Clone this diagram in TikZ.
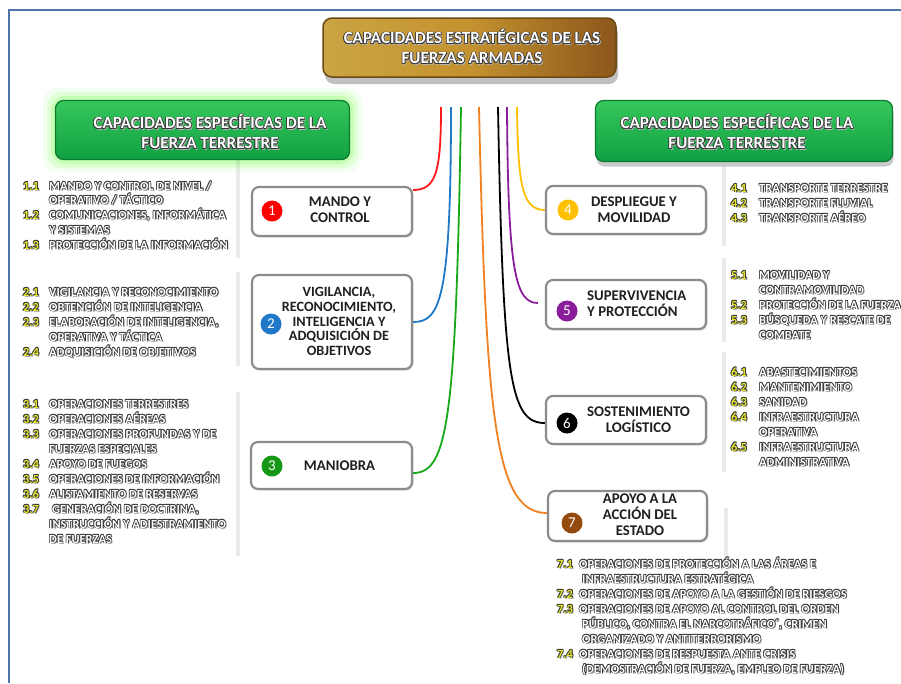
\documentclass[tikz,border=0pt]{standalone}
\usepackage{fontspec}
\setmainfont{Carlito}
\usetikzlibrary{shadows,calc}

\definecolor{frameblue}{HTML}{4F76A8}
\definecolor{numyel}{HTML}{E6E62E}
\definecolor{boxgray}{HTML}{8C8C8C}
\definecolor{cred}{HTML}{FF1A1A}
\definecolor{cblue}{HTML}{1F78C8}
\definecolor{cgreen}{HTML}{18A818}
\definecolor{corange}{HTML}{F08020}
\definecolor{cpurple}{HTML}{8A1E9A}
\definecolor{cyellow}{HTML}{FFC000}
\definecolor{cbrown}{HTML}{944A0C}
\definecolor{gtop}{HTML}{36C75C}
\definecolor{gbot}{HTML}{10A042}
\definecolor{gline}{HTML}{0B7A30}
\definecolor{goldl}{HTML}{CBA443}
\definecolor{goldm}{HTML}{C4922F}
\definecolor{goldr}{HTML}{8C571B}
\definecolor{goldline}{HTML}{6B4A14}

% outlined text: dark rim around a light fill, with a soft offset shadow
\newlength\olw
\setlength\olw{0.6pt}
\colorlet{olcol}{black!78}
\newcommand\olt[2][white]{\leavevmode\setbox0=\hbox{#2}%
  \rlap{\color{black!30}\kern1.3pt\lower1.3pt\copy0}%
  \rlap{\color{olcol}\kern-\olw\raise\olw\copy0}%
  \rlap{\color{olcol}\kern\olw\raise\olw\copy0}%
  \rlap{\color{olcol}\kern-\olw\lower\olw\copy0}%
  \rlap{\color{olcol}\kern\olw\lower\olw\copy0}%
  \rlap{\color{olcol}\kern\olw\copy0}%
  \rlap{\color{olcol}\kern-\olw\copy0}%
  \rlap{\color{olcol}\raise\olw\copy0}%
  \rlap{\color{olcol}\lower\olw\copy0}%
  {\color{#1}\copy0}}

\tikzset{
  lst/.style={inner sep=0pt, anchor=base west, font=\fontsize{12.4}{15}\selectfont\bfseries},
  lnum/.style={inner sep=0pt, anchor=base, font=\fontsize{12.4}{15}\selectfont\bfseries},
  capbox/.style={draw=boxgray, line width=2.2pt, rounded corners=7pt, fill=white,
    drop shadow={shadow xshift=1.5pt, shadow yshift=-1.5pt, opacity=.25, fill=black!50}},
  badge/.style={circle, minimum size=21pt, inner sep=0pt, text=white,
    font=\fontsize{15}{15}\selectfont},
  boxtxt/.style={inner sep=0pt, align=center, text=black!88,
    font=\fontsize{14.8}{16}\selectfont\bfseries},
  head/.style={inner sep=0pt, align=center, font=\fontsize{17}{20}\selectfont\bfseries},
  greenbox/.style={rounded corners=8pt, top color=gtop, bottom color=gbot, draw=gline, line width=1.2pt},
  link/.style={line width=1.8pt},
  brk/.style={line width=3.5pt, black!8},
}

\newcommand\lline[4]{\node[lst] (#1) at (#2,#3+4) {\olt{#4}};}
\newcommand\lnumb[4]{\node[lnum] (#1) at (#2,#3+4) {\olt[numyel]{#4}};}

\begin{document}
\begin{tikzpicture}[x=1pt,y=-1pt]
\fill[white] (0,0) rectangle (901,683);
\useasboundingbox (0,0) rectangle (901,683);

% frame
\draw[frameblue, line width=2.5pt] (9,683) -- (9,10) -- (901,10);

% bracket shadows beside the lists
\draw[brk] (238,155) -- (238,258);
\draw[brk] (238,272) -- (238,366);
\draw[brk] (238,392) -- (238,556);
\draw[brk] (724,166) -- (724,246);
\draw[brk] (724,258) -- (724,342);
\draw[brk] (724,352) -- (724,472);
\draw[brk] (726,508) -- (726,562);

% title
\node[rounded corners=9pt, left color=goldl, right color=goldr, middle color=goldm,
  draw=goldline, line width=1.5pt, minimum width=293pt, minimum height=59pt,
  drop shadow={shadow xshift=2pt, shadow yshift=-7pt, opacity=.35, fill=black!70}]
  (title) at (469.5,47.5) {};
\node[head] (titletxt) at (472,47) {\olt{CAPACIDADES ESTRATÉGICAS DE LAS}\\\olt{FUERZAS ARMADAS}};

% green headers
\foreach \g/\o in {12/0.06, 8/0.10, 4/0.16}
  \fill[green!70!lime, opacity=\o, rounded corners=14pt] (55-\g,100-\g) rectangle (350+\g,160+\g);
\node[greenbox, minimum width=294pt, minimum height=59pt] (gleft) at (202.5,130) {};
\node[head] (glefttxt) at (210,132) {\olt{CAPACIDADES ESPECÍFICAS DE LA}\\\olt{FUERZA TERRESTRE}};
\node[greenbox, minimum width=297pt, minimum height=61pt,
  drop shadow={shadow xshift=1pt, shadow yshift=-5pt, opacity=.35, fill=black!60}]
  (gright) at (744,131) {};
\node[head] (grighttxt) at (737,132) {\olt{CAPACIDADES ESPECÍFICAS DE LA}\\\olt{FUERZA TERRESTRE}};

% capability boxes
\node[capbox, minimum width=160pt, minimum height=49pt] (b1) at (332,211.5) {};
\node[capbox, minimum width=160pt, minimum height=94pt] (b2) at (332,322) {};
\node[capbox, minimum width=161pt, minimum height=47pt] (b3) at (331.5,465.5) {};
\node[capbox, minimum width=160pt, minimum height=48pt] (b4) at (626,210) {};
\node[capbox, minimum width=160pt, minimum height=49pt] (b5) at (626,304.5) {};
\node[capbox, minimum width=160pt, minimum height=48pt] (b6) at (626,420) {};
\node[capbox, minimum width=159pt, minimum height=50pt] (b7) at (627.5,516) {};

\node[badge, fill=red] (c1) at (272,211) {1};
\node[badge, fill=cblue] (c2) at (271,324) {2};
\node[badge, fill=cgreen!90!black] (c3) at (272,466) {3};
\node[badge, fill=cyellow] (c4) at (568,210) {4};
\node[badge, fill=cpurple] (c5) at (567,311) {5};
\node[badge, fill=black] (c6) at (567,423) {6};
\node[badge, fill=cbrown] (c7) at (572,523) {7};

\node[boxtxt] (t1) at (340,210) {MANDO Y\\CONTROL};
\node[boxtxt, font=\fontsize{14.2}{14.8}\selectfont\bfseries] (t2) at (339,321.5)
  {VIGILANCIA,\\RECONOCIMIENTO,\\INTELIGENCIA Y\\ADQUISICIÓN DE\\OBJETIVOS};
\node[boxtxt] (t3) at (339.5,466) {MANIOBRA};
\node[boxtxt] (t4) at (634,210) {DESPLIEGUE Y\\MOVILIDAD};
\node[boxtxt, align=left, anchor=west] (t5) at (587,304) {SUPERVIVENCIA\\Y PROTECCIÓN};
\node[boxtxt] (t6) at (638.5,420) {SOSTENIMIENTO\\LOGÍSTICO};
\node[boxtxt] (t7) at (640,515) {APOYO A LA\\ACCIÓN DEL\\ESTADO};

% connectors from the title to each capability
\coordinate (s1) at (441,107);
\coordinate (s2) at (451,107);
\coordinate (s3) at (461,107);
\coordinate (s7) at (479,107);
\coordinate (s6) at (498,107);
\coordinate (s5) at (507,107);
\coordinate (s4) at (517,107);
\draw[link, cred] (s1) .. controls (441,172) and (436,190) .. ([yshift=21.5pt]b1.east);
\draw[link, cblue] (s2) .. controls (451,300) and (440,322) .. (b2.east);
\draw[link, cgreen] (s3) .. controls (456,420) and (448,473) .. ([yshift=-7.5pt]b3.east);
\draw[link, corange] (s7) .. controls (486,420) and (495,513) .. ([yshift=3pt]b7.west);
\draw[link, black] (s6) .. controls (503,380) and (510,423) .. ([yshift=-3pt]b6.west);
\draw[link, cpurple] (s5) .. controls (508,270) and (515,303) .. ([xshift=-7pt,yshift=1.5pt]b5.west);
\draw[link, cyellow] (s4) .. controls (518,185) and (522,210) .. (b4.west);

% left lists
\lnumb{n11}{31}{186}{1.1}\lline{l11a}{49}{186}{MANDO Y CONTROL DE NIVEL /}
\lline{l11b}{49}{200}{OPERATIVO / TÁCTICO}
\lnumb{n12}{31}{215}{1.2}\lline{l12a}{49}{215}{COMUNICACIONES, INFORMÁTICA}
\lline{l12b}{49}{230}{Y SISTEMAS}
\lnumb{n13}{31}{245}{1.3}\lline{l13a}{49}{245}{PROTECCIÓN DE LA INFORMACIÓN}

\lnumb{n21}{31}{292}{2.1}\lline{l21a}{49}{292}{VIGILANCIA Y RECONOCIMIENTO}
\lnumb{n22}{31}{307}{2.2}\lline{l22a}{49}{307}{OBTENCIÓN DE INTELIGENCIA}
\lnumb{n23}{31}{322}{2.3}\lline{l23a}{49}{322}{ELABORACIÓN DE INTELIGENCIA,}
\lline{l23b}{49}{337}{OPERATIVA Y TÁCTICA}
\lnumb{n24}{31}{352}{2.4}\lline{l24a}{49}{352}{ADQUISICIÓN DE OBJETIVOS}

\lnumb{n31}{31}{404}{3.1}\lline{l31a}{49}{404}{OPERACIONES TERRESTRES}
\lnumb{n32}{31}{419}{3.2}\lline{l32a}{49}{419}{OPERACIONES AÉREAS}
\lnumb{n33}{31}{434}{3.3}\lline{l33a}{49}{434}{OPERACIONES PROFUNDAS Y DE}
\lline{l33b}{49}{449}{FUERZAS ESPECIALES}
\lnumb{n34}{31}{464}{3.4}\lline{l34a}{49}{464}{APOYO DE FUEGOS}
\lnumb{n35}{31}{479}{3.5}\lline{l35a}{49}{479}{OPERACIONES DE INFORMACIÓN}
\lnumb{n36}{31}{494}{3.6}\lline{l36a}{49}{494}{ALISTAMIENTO DE RESERVAS}
\lnumb{n37}{31}{509}{3.7}\lline{l37a}{52}{509}{GENERACIÓN DE DOCTRINA,}
\lline{l37b}{49}{524}{INSTRUCCIÓN Y ADIESTRAMIENTO}
\lline{l37c}{49}{539}{DE FUERZAS}

% right lists
\lnumb{n41}{739}{188}{4.1}\lline{l41a}{759}{188}{TRANSPORTE TERRESTRE}
\lnumb{n42}{739}{203}{4.2}\lline{l42a}{759}{203}{TRANSPORTE FLUVIAL}
\lnumb{n43}{739}{218}{4.3}\lline{l43a}{759}{218}{TRANSPORTE AÉREO}

\lnumb{n51}{739}{275}{5.1}\lline{l51a}{759}{275}{MOVILIDAD Y}
\lline{l51b}{759}{290}{CONTRAMOVILIDAD}
\lnumb{n52}{739}{305}{5.2}\lline{l52a}{759}{305}{PROTECCIÓN DE LA FUERZA}
\lnumb{n53}{739}{320}{5.3}\lline{l53a}{759}{320}{BÚSQUEDA Y RESCATE DE}
\lline{l53b}{759}{335}{COMBATE}

\lnumb{n61}{739}{372}{6.1}\lline{l61a}{759}{372}{ABASTECIMIENTOS}
\lnumb{n62}{739}{387}{6.2}\lline{l62a}{759}{387}{MANTENIMIENTO}
\lnumb{n63}{739}{402}{6.3}\lline{l63a}{759}{402}{SANIDAD}
\lnumb{n64}{739}{417}{6.4}\lline{l64a}{759}{417}{INFRAESTRUCTURA}
\lline{l64b}{759}{432}{OPERATIVA}
\lnumb{n65}{739}{447}{6.5}\lline{l65a}{759}{447}{INFRAESTRUCTURA}
\lline{l65b}{759}{462}{ADMINISTRATIVA}

\lnumb{n71}{565}{564}{7.1}\lline{l71a}{579}{564}{OPERACIONES DE PROTECCIÓN A LAS ÁREAS E}
\lline{l71b}{582}{579}{INFRAESTRUCTURA ESTRATÉGICA}
\lnumb{n72}{565}{594}{7.2}\lline{l72a}{579}{594}{OPERACIONES DE APOYO A LA GESTIÓN DE RIESGOS}
\lnumb{n73}{565}{609}{7.3}\lline{l73a}{579}{609}{OPERACIONES DE APOYO AL CONTROL DEL ORDEN}
\lline{l73b}{582}{624}{PÚBLICO, CONTRA EL NARCOTRÁFICO´, CRIMEN}
\lline{l73c}{582}{639}{ORGANIZADO Y ANTITERRORISMO}
\lnumb{n74}{565}{654}{7.4}\lline{l74a}{579}{654}{OPERACIONES DE RESPUESTA ANTE CRISIS}
\lline{l74b}{582}{669}{(DEMOSTRACIÓN DE FUERZA, EMPLEO DE FUERZA)}
\end{tikzpicture}
\end{document}
